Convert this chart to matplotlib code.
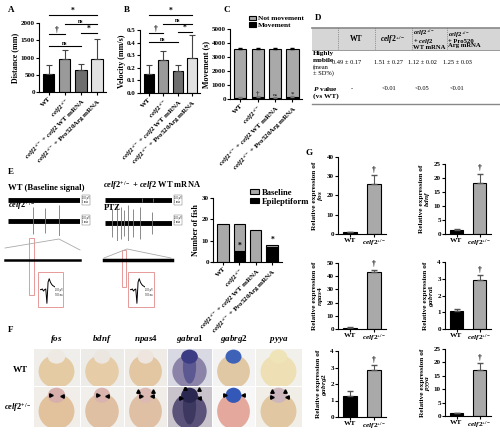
import numpy as np
import matplotlib
matplotlib.use("Agg")
import matplotlib.pyplot as plt
from matplotlib.patches import Rectangle, Ellipse

# ── Style ──────────────────────────────────────────────────────────────────────
plt.rcParams.update({
    "font.family": ["Liberation Serif", "DejaVu Serif"],
    "font.weight": "bold",
    "axes.labelweight": "bold",
    "mathtext.fontset": "custom",
    "mathtext.rm": "Liberation Serif:bold",
    "mathtext.it": "Liberation Serif:bold:italic",
    "mathtext.bf": "Liberation Serif:bold",
    "axes.linewidth": 0.8,
    "xtick.major.width": 0.8,
    "ytick.major.width": 0.8,
    "xtick.major.size": 2,
    "ytick.major.size": 2,
    "xtick.labelsize": 5,
    "ytick.labelsize": 5,
    "axes.labelsize": 5.8,
})

W, H = 500, 434
CELF = r"$\mathit{celf2}^{+/-}$"
GROUPS = ["WT", CELF,
          CELF + r" + $\mathit{celf2}$ WT mRNA",
          CELF + " + Pro520Arg mRNA"]
GROUP_COLORS = ["black", "#9a9a9a", "#6e6e6e", "#e2e2e2"]

# ── Data ───────────────────────────────────────────────────────────────────────
distance_mean = [530, 960, 630, 970]
distance_sd = [260, 250, 170, 580]
# (from, to, height, label)
distance_sig = [(0, 3, 2230, "*"), (1, 3, 1970, "ns"), (0, 1, 1680, "†"),
                (2, 3, 1700, "*"), (0, 2, 1330, "ns")]

velocity_mean = [0.15, 0.265, 0.175, 0.28]
velocity_sd = [0.07, 0.07, 0.05, 0.18]
velocity_sig = [(0, 3, 0.62, "*"), (1, 3, 0.55, "ns"), (0, 1, 0.475, "†"),
                (2, 3, 0.485, "*"), (0, 2, 0.405, "ns")]

movement = [70, 150, 100, 130]
not_movement = [3530, 3450, 3500, 3470]
movement_sd = [40, 60, 40, 50]
movement_marks = ["", "†", "ns", "*"]

epileptiform = [0, 5, 0, 7]
baseline = [18, 13, 15, 1]
fish_marks = ["", "*", "", "*"]

table_header = ["WT", CELF, CELF + "\n+ $\\mathit{celf2}$\nWT mRNA",
                CELF + "\n+ Pro520\nArg mRNA"]
mobile_values = ["0.49 ± 0.17", "1.51 ± 0.27", "1.12 ± 0.02", "1.25 ± 0.03"]
p_values = ["-", "<0.01", "<0.05", "<0.01"]

genes = ["fos", "bdnf", "npas4", "gabra1", "gabrg2", "pyya"]
expr_wt = [1.0, 1.3, 1.0, 1.1, 1.25, 1.0]
expr_wt_sd = [0.2, 0.5, 0.3, 0.1, 0.3, 0.2]
expr_mut = [26.0, 18.3, 43.0, 2.95, 2.85, 17.3]
expr_mut_sd = [4.5, 3.3, 2.0, 0.25, 0.3, 2.3]
expr_ymax = [40, 25, 50, 4, 4, 25]
expr_step = [10, 5, 10, 1, 1, 5]

# EEG traces: spike times (fraction of trace) and heights (fraction of half-range)
wt_spikes = []
mut_spikes = [0.35, 0.51, 0.71]
mut_heights = [0.9, 0.8, 1.0]
rescue_spikes = [0.55, 0.72]
rescue_heights = [0.5, 0.45]
ptz_spikes = [0.10, 0.18, 0.24, 0.28, 0.34, 0.42, 0.52, 0.70]
ptz_heights = [0.8, 1.0, 0.9, 0.7, 1.0, 0.8, 0.9, 0.6]
spike_wave = [0, 0, 0.05, -0.1, 0.0, 0.05, -1.0, 0.55, 0.8, 0.55, 0.4, 0.3, 0.25, 0.2]


def box(x0, y0, x1, y1):
    return fig.add_axes([x0 / W, 1 - y1 / H, (x1 - x0) / W, (y1 - y0) / H])


def clean(ax):
    ax.spines["top"].set_visible(False)
    ax.spines["right"].set_visible(False)
    ax.tick_params(pad=1)


def group_bars(ax, mean, sd, ylabel, yticks, ylim, fmt):
    x = np.arange(len(mean))
    ax.bar(x, mean, width=0.7, color=GROUP_COLORS, edgecolor="black", linewidth=0.8)
    ax.errorbar(x, mean, yerr=[np.zeros(len(sd)), sd], fmt="none",
                ecolor="#444444", elinewidth=0.8, capsize=2, capthick=0.8)
    ax.set_xlim(-0.6, 3.55)
    ax.set_ylim(*ylim)
    ax.set_yticks(yticks)
    ax.set_yticklabels([fmt.format(v) for v in yticks])
    ax.set_xticks(x)
    ax.set_xticklabels(GROUPS, rotation=45, ha="right", rotation_mode="anchor")
    ax.set_ylabel(ylabel, labelpad=1)
    clean(ax)


def sig_lines(ax, sig, offset):
    for a, b, h, lab in sig:
        ax.plot([a, b], [h, h], color="black", lw=0.8, clip_on=False)
        ax.text((a + b) / 2, h + offset, lab, ha="center", va="bottom",
                fontsize=4.2 if lab == "ns" else 5.5, clip_on=False)


fig = plt.figure(figsize=(W / 100, H / 100), dpi=100)

# ── A / B ──────────────────────────────────────────────────────────────────────
axA = box(39, 23, 106, 92)
group_bars(axA, distance_mean, distance_sd, "Distance (mm)",
           [0, 500, 1000, 1500, 2000], (0, 2000), "{:.0f}")
sig_lines(axA, distance_sig, 10)

axB = box(140, 30, 200, 93)
group_bars(axB, velocity_mean, velocity_sd, "Velocity (mm/s)",
           [0, 0.1, 0.2, 0.3, 0.4, 0.5], (0, 0.5), "{:.1f}")
sig_lines(axB, velocity_sig, 0.003)

# ── C ──────────────────────────────────────────────────────────────────────────
axC = box(230, 29, 302, 99)
xc = np.arange(4)
axC.bar(xc, movement, width=0.7, color="black", edgecolor="black", lw=0.8, label="Movement")
axC.bar(xc, not_movement, bottom=movement, width=0.7, color="#a9a9a9",
        edgecolor="black", lw=0.8, label="Not movement")
tot = np.array(movement) + np.array(not_movement)
axC.errorbar(xc, tot, yerr=[np.zeros(4), [30] * 4], fmt="none", ecolor="black",
             elinewidth=0.6, capsize=1.5)
axC.errorbar(xc, movement, yerr=[np.zeros(4), movement_sd], fmt="none", ecolor="#777777",
             elinewidth=0.6, capsize=1.5)
for i, m in enumerate(movement_marks):
    axC.text(i, movement[i] + movement_sd[i] + 20, m, ha="center", va="bottom",
             fontsize=3.8 if m == "ns" else 5, color="#333333")
axC.set_xlim(-0.6, 3.55)
axC.set_ylim(0, 5000)
axC.set_yticks(range(0, 5001, 1000))
axC.set_xticks(xc)
axC.set_xticklabels(GROUPS, rotation=45, ha="right", rotation_mode="anchor")
axC.set_ylabel("Movement (s)", labelpad=1)
clean(axC)
h, l = axC.get_legend_handles_labels()
axC.legend(h[::-1], l[::-1], loc="lower left", bbox_to_anchor=(0.22, 0.97), fontsize=5.3,
           frameon=False, handlelength=1.0, handleheight=0.6, handletextpad=0.3,
           labelspacing=0.1, borderaxespad=0)

# ── D table ────────────────────────────────────────────────────────────────────
axD = box(310, 20, 500, 110)
axD.set_xlim(310, 500)
axD.set_ylim(110, 20)
axD.axis("off")
axD.add_patch(Rectangle((312, 28), 188, 22, color="#d6d6d6", lw=0))
axD.plot([312, 500], [28, 28], color="#888888", lw=1.2)
axD.plot([312, 500], [50, 50], color="#888888", lw=0.6)
axD.plot([312, 500], [104, 104], color="#888888", lw=1.0)
for xs in [338, 375, 412, 447]:
    axD.plot([xs, xs], [28, 50], color="#555555", lw=0.5, ls=":")
col_x = [356, 393, 413, 448]
for i, t in enumerate(table_header):
    ha = "center" if i < 2 else "left"
    axD.text(col_x[i], 39, t, ha=ha, va="center", fontsize=4.8 if i >= 2 else 5.5,
             linespacing=0.78)
axD.text(313, 53, "Highly", ha="left", va="center", fontsize=5.3)
axD.text(313, 60, "mobile", ha="left", va="center", fontsize=5.3)
axD.text(313, 67, "(mean", ha="left", va="center", fontsize=4.6, fontweight="normal")
axD.text(313, 73, "± SD%)", ha="left", va="center", fontsize=4.6, fontweight="normal")
axD.text(313, 89, "$\\mathit{P}$ value", ha="left", va="center", fontsize=5.3)
axD.text(313, 96, "(vs WT)", ha="left", va="center", fontsize=5.3)
val_x = [347, 389, 422, 457]
for i in range(4):
    axD.text(val_x[i], 62, mobile_values[i], ha="center", va="center", fontsize=4.6,
             fontweight="normal")
    axD.text(val_x[i] + (5 if i == 0 else 0), 89, p_values[i], ha="center", va="center",
             fontsize=4.6, fontweight="normal")

# ── E traces ───────────────────────────────────────────────────────────────────
def eeg(x0, y0, x1, y1, spikes, heights, band=3.5, color="#777777"):
    ax = box(x0, y0, x1, y1)
    ax.set_xlim(0, 1)
    ax.set_ylim(-1, 1)
    ax.axis("off")
    ax.plot([0, 1], [0, 0], color="black", lw=band, solid_capstyle="butt")
    if spikes:
        ax.vlines(spikes, [-h for h in heights], heights, color=color, lw=0.6)
    return ax


eeg(8, 196, 80, 204, wt_spikes, [])
eeg(8, 205, 80, 236, mut_spikes, mut_heights)
eeg(105, 196, 172, 204, rescue_spikes, rescue_heights)
eeg(105, 205, 172, 241, ptz_spikes, ptz_heights)

# overlay for connectors, zoom boxes and insets
ov = box(0, 160, 215, 320)
ov.set_xlim(0, 215)
ov.set_ylim(320, 160)
ov.axis("off")
ov.plot([5, 59, 80], [248, 239, 250], color="#aaaaaa", lw=0.6)
ov.plot([104, 127, 171], [258, 249, 258], color="#aaaaaa", lw=0.6)
ov.plot([5, 80], [260, 260], color="black", lw=1.8)
ov.plot([104, 172], [260, 260], color="black", lw=2.5)
ov.add_patch(Rectangle((29, 238), 5, 57, fill=False, ec="#e89a9a", lw=0.7))
ov.add_patch(Rectangle((122, 250), 4, 37, fill=False, ec="#e89a9a", lw=0.7))
ov.add_patch(Rectangle((38, 272), 25, 35, fill=False, ec="#e89a9a", lw=0.7))
ov.add_patch(Rectangle((128, 272), 26, 35, fill=False, ec="#e89a9a", lw=0.7))
for bx in [82, 174]:
    for by in [200, 220]:
        ov.text(bx, by, "200 µV\n1 min", fontsize=1.8, va="center", fontweight="normal",
                bbox=dict(fc="white", ec="#666666", lw=0.3, pad=0.3))
for ix in [38, 128]:
    ia = box(ix + 2, 276, ix + 17, 304)
    ia.set_xlim(0, len(spike_wave) - 1)
    ia.set_ylim(-1.05, 1.0)
    ia.axis("off")
    ia.plot(range(len(spike_wave)), spike_wave, color="black", lw=0.7)
    ov.text(ix + 17, 296, "200 µV\n500 ms", fontsize=1.8, fontweight="normal")

fig.text(8 / W, 1 - 192 / H, "WT (Baseline signal)", fontsize=6.2, va="bottom")
fig.text(8 / W, 1 - 212 / H, CELF, fontsize=6, va="bottom")
fig.text(103 / W, 1 - 192 / H, CELF + r" + $\mathit{celf2}$ WT mRNA", fontsize=6, va="bottom")
fig.text(104 / W, 1 - 212 / H, "PTZ", fontsize=6.2, va="bottom")

# ── E bar ──────────────────────────────────────────────────────────────────────
axE = box(213, 198, 282, 262)
axE.bar(xc, epileptiform, width=0.7, color="black", edgecolor="black", lw=0.8,
        label="Epileptiform")
axE.bar(xc, baseline, bottom=epileptiform, width=0.7, color="#a9a9a9",
        edgecolor="black", lw=0.8, label="Baseline")
for i, m in enumerate(fish_marks):
    axE.text(i, epileptiform[i] + (0.5 if i == 1 else 1.5), m,
             ha="center", va="bottom", fontsize=5.5)
axE.set_xlim(-0.6, 3.6)
axE.set_ylim(0, 30)
axE.set_yticks([0, 10, 20, 30])
axE.set_xticks(xc)
axE.set_xticklabels(GROUPS, rotation=45, ha="right", rotation_mode="anchor")
axE.set_ylabel("Number of fish", labelpad=1)
clean(axE)
h, l = axE.get_legend_handles_labels()
axE.legend(h[::-1], l[::-1], loc="upper left", bbox_to_anchor=(0.49, 1.2), fontsize=6.2,
           frameon=False, handlelength=1.0, handleheight=0.6, handletextpad=0.3,
           labelspacing=0.1, borderaxespad=0)

# ── F in situ images ───────────────────────────────────────────────────────────
col_edges = [33, 80, 124, 167, 212, 255, 302]
row_edges = [348, 386, 427]
bg = [["#efeeea", "#ecebe7", "#efece8", "#d9d9e3", "#f3f3f3", "#f2f0ea"],
      ["#f1eeea", "#f1efec", "#f0ece8", "#c9c4cc", "#f7f7f7", "#f1eee8"]]
yolk = [["#e4cba4", "#e6cda8", "#e3c6a2", "#8c84a8", "#e0c8a4", "#eee0b4"],
        ["#e2c29c", "#e0c0a2", "#dfc0a4", "#5a5278", "#e4a89c", "#e2c8a2"]]
head = [["#eee9e2", "#ebe6e0", "#ede5de", "#3c3c84", "#3e62b8", "#efe4b8"],
        ["#d7b0ac", "#d9b3ae", "#dcb9b2", "#2a2850", "#3458b8", "#cdb7bc"]]
arrow_pos = [[(0.38, 0.8), (0.62, 0.76)], [(0.4, 0.8), (0.62, 0.76)],
             [(0.32, 0.9), (0.68, 0.9), (0.4, 0.76), (0.65, 0.76)],
             [(0.4, 0.97), (0.72, 0.95), (0.3, 0.72), (0.72, 0.72)],
             [(0.3, 0.8), (0.72, 0.8)],
             [(0.35, 0.9), (0.65, 0.88), (0.35, 0.74), (0.68, 0.74)]]
for r in range(2):
    for c in range(6):
        ax = box(col_edges[c] + 0.5, row_edges[r] + 0.5, col_edges[c + 1] - 0.5,
                 row_edges[r + 1] - 0.5)
        ax.set_xlim(0, 1)
        ax.set_ylim(0, 1)
        ax.set_xticks([])
        ax.set_yticks([])
        for s in ax.spines.values():
            s.set_visible(False)
        ax.set_facecolor(bg[r][c])
        ax.add_patch(Ellipse((0.5, 0.38), 0.78, 0.9, color=yolk[r][c], lw=0))
        ax.add_patch(Ellipse((0.5, 0.78), 0.38, 0.38, color=head[r][c], lw=0))
        if c == 3:
            ax.add_patch(Ellipse((0.5, 0.5), 0.3, 0.9, color=head[r][c], lw=0, alpha=0.6))
        if r == 1:
            for px, py in arrow_pos[c]:
                ax.plot(px, py, marker="^" if py > 0.85 else ">" if px < 0.5 else "<",
                        color="black", ms=2.5)
for c in range(6):
    fig.text((col_edges[c] + col_edges[c + 1]) / 2 / W, 1 - 345 / H,
             f"$\\mathit{{{genes[c]}}}$", ha="center", va="bottom", fontsize=6.5)
fig.text(20 / W, 1 - 370 / H, "WT", ha="center", va="center", fontsize=6.5)
fig.text(18 / W, 1 - 407 / H, CELF, ha="center", va="center", fontsize=6)

# ── G qPCR ─────────────────────────────────────────────────────────────────────
g_boxes = [(338, 157, 386, 234), (445, 164, 491, 234),
           (338, 263, 386, 329), (445, 262, 491, 329),
           (338, 351, 386, 417), (445, 349, 491, 416)]
for i, g in enumerate(genes):
    ax = box(*g_boxes[i])
    ax.bar([0, 1], [expr_wt[i], expr_mut[i]], width=0.6, color=["black", "#a9a9a9"],
           edgecolor="black", lw=0.8)
    ax.errorbar([0, 1], [expr_wt[i], expr_mut[i]],
                yerr=[[0, 0], [expr_wt_sd[i], expr_mut_sd[i]]], fmt="none",
                ecolor="#555555", elinewidth=0.8, capsize=2)
    ax.text(1, expr_mut[i] + expr_mut_sd[i] + expr_ymax[i] * 0.02, "†",
            ha="center", va="bottom", fontsize=5.5)
    ax.set_xlim(-0.5, 1.5)
    ax.set_ylim(0, expr_ymax[i])
    ax.set_yticks(np.arange(0, expr_ymax[i] + 0.1, expr_step[i]))
    ax.set_xticks([0, 1])
    ax.set_xticklabels(["WT", CELF], fontsize=5.3)
    ax.tick_params(axis="x", pad=0.5)
    ax.set_ylabel("Relative expression of\n" + f"$\\mathit{{{g}}}$", labelpad=1,
                  fontsize=5.3, linespacing=0.9)
    clean(ax)

# ── Panel letters ──────────────────────────────────────────────────────────────
for lab, x, y in [("A", 8, 10), ("B", 124, 10), ("C", 224, 10), ("D", 315, 18),
                  ("E", 8, 172), ("F", 8, 330), ("G", 306, 153)]:
    fig.text(x / W, 1 - y / H, lab, fontsize=6.5, va="center", ha="left")

fig.savefig("out.png", dpi=100, facecolor="white")
